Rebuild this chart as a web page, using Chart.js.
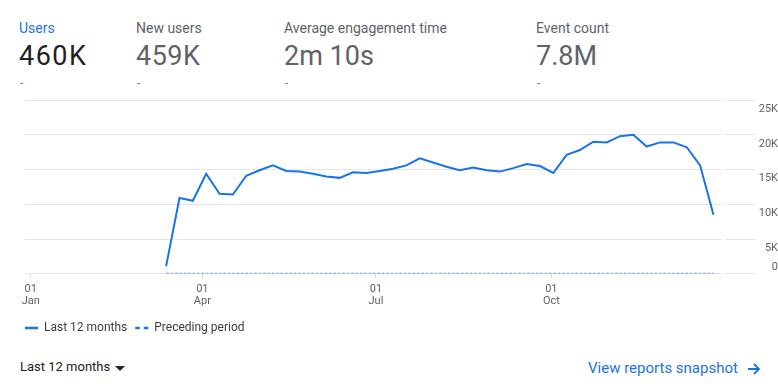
<!DOCTYPE html>
<html>
<head>
<meta charset="utf-8">
<script src="https://cdn.jsdelivr.net/npm/chart.js@4"></script>
<style>
  body { margin: 0; background: #fff; font-family: Roboto, Arial, sans-serif; width: 778px; height: 391px; overflow: hidden; position: relative; }
  .abs { position: absolute; white-space: nowrap; }
  .lbl { font-size: 14px; line-height: 14px; color: #5f6368; top: 20.5px; }
  .val { font-size: 27px; line-height: 27px; color: #5f6368; top: 43.3px; }
  .dash { font-size: 11px; line-height: 11px; color: #5f6368; top: 78px; }
  #chartBox { position: absolute; left: 0; top: 88px; width: 778px; height: 256px; }
</style>
</head>
<body>

<div class="abs lbl" style="left:19px; color:#1a73e8;">Users</div>
<div class="abs val" style="left:19px; color:#202124; letter-spacing:1.5px;">460K</div>
<div class="abs dash" style="left:20px; color:#1a73e8;">-</div>

<div class="abs lbl" style="left:136px;">New users</div>
<div class="abs val" style="left:136px; letter-spacing:0.5px;">459K</div>
<div class="abs dash" style="left:137px;">-</div>

<div class="abs lbl" style="left:284px;">Average engagement time</div>
<div class="abs val" style="left:284px;">2m 10s</div>
<div class="abs dash" style="left:285px;">-</div>

<div class="abs lbl" style="left:536px;">Event count</div>
<div class="abs val" style="left:536px;">7.8M</div>
<div class="abs dash" style="left:537px;">-</div>

<div id="chartBox"><canvas id="myChart" width="778" height="256"></canvas></div>

<div class="abs" style="left:20px; top:360.4px; font-size:13px; line-height:13px; color:#202124;">Last 12 months</div>
<div class="abs" style="left:115px; top:366px; width:0; height:0; border-left:5px solid transparent; border-right:5px solid transparent; border-top:5px solid #202124;"></div>

<div class="abs" style="left:588px; top:361.4px; font-size:15px; line-height:15px; color:#1a73e8;">View reports snapshot</div>
<svg class="abs" style="left:747px; top:363px;" width="14" height="12" viewBox="0 0 14 12">
  <path d="M1 6 H12 M7 1 L12 6 L7 11" fill="none" stroke="#1a73e8" stroke-width="1.8"/>
</svg>

<script>
'use strict';

// week start dates (categories)
var weekDates = [
    '2023-03-13', '2023-03-20', '2023-03-27',
    '2023-04-03', '2023-04-10', '2023-04-17', '2023-04-24',
    '2023-05-01', '2023-05-08', '2023-05-15', '2023-05-22', '2023-05-29',
    '2023-06-05', '2023-06-12', '2023-06-19', '2023-06-26',
    '2023-07-03', '2023-07-10', '2023-07-17', '2023-07-24', '2023-07-31',
    '2023-08-07', '2023-08-14', '2023-08-21', '2023-08-28',
    '2023-09-04', '2023-09-11', '2023-09-18', '2023-09-25',
    '2023-10-02', '2023-10-09', '2023-10-16', '2023-10-23', '2023-10-30',
    '2023-11-06', '2023-11-13', '2023-11-20', '2023-11-27',
    '2023-12-04', '2023-12-11', '2023-12-18', '2023-12-25'
];

// users, last 12 months
var usersLast12 = [
    1100, 10900, 10500,
    14400, 11500, 11400, 14100,
    14900, 15600, 14800, 14700, 14400,
    14000, 13800, 14600, 14500,
    14800, 15100, 15600, 16600, 16000,
    15400, 14900, 15300, 14900,
    14700, 15200, 15800, 15500,
    14500, 17100, 17800, 19000, 18900,
    19800, 20000, 18300, 18900,
    18900, 18200, 15600, 8500
];

// users, preceding period
var usersPreceding = [
    0, 0, 0,
    0, 0, 0, 0,
    0, 0, 0, 0, 0,
    0, 0, 0, 0,
    0, 0, 0, 0, 0,
    0, 0, 0, 0,
    0, 0, 0, 0,
    0, 0, 0, 0, 0,
    0, 0, 0, 0,
    0, 0, 0, 0
];

// x axis ticks
var tickDates = ['2023-01-01', '2023-04-01', '2023-07-01', '2023-10-01'];
var tickLabels = [['01', 'Jan'], ['01', 'Apr'], ['01', 'Jul'], ['01', 'Oct']];

// y axis ticks
var yTicks = [0, 5000, 10000, 15000, 20000, 25000];
var yTickLabels = ['0', '5K', '10K', '15K', '20K', '25K'];

var rangeStart = '2022-12-29';
var rangeEnd = '2023-12-30';

function dayNum(s) {
    return (Date.parse(s + 'T00:00:00Z') - Date.UTC(2023, 0, 1)) / 86400000;
}

function toPoints(values) {
    return values.map(function(v, i) {
        return {x: dayNum(weekDates[i]), y: v};
    });
}

initChart();

function initChart() {
    var ctx = document.getElementById('myChart').getContext('2d');

    var data = {
        datasets: [
            {
                label: 'Last 12 months',
                data: toPoints(usersLast12),
                xAxisID: 'x',
                yAxisID: 'y',
                borderColor: '#1a73e8',
                borderWidth: 2,
                pointRadius: 0,
                tension: 0,
                fill: false
            },
            {
                label: 'Preceding period',
                data: toPoints(usersPreceding),
                xAxisID: 'x',
                yAxisID: 'y',
                borderColor: '#6a9ef4',
                borderWidth: 2,
                borderDash: [2.7, 1.7],
                pointRadius: 0,
                tension: 0,
                fill: false
            }
        ]
    };

    var options = {
        responsive: false,
        animation: false,
        devicePixelRatio: 1,
        layout: {
            padding: {left: 17, right: 0, top: 12, bottom: 0}
        },
        plugins: {
            tooltip: {enabled: false},
            legend: {
                position: 'bottom',
                align: 'start',
                labels: {
                    usePointStyle: true,
                    pointStyle: 'line',
                    pointStyleWidth: 13,
                    padding: 8,
                    color: '#3c4043',
                    font: {family: 'Roboto', size: 12},
                    generateLabels: function(chart) {
                        var items = Chart.defaults.plugins.legend.labels.generateLabels(chart);
                        items.forEach(function(item, i) {
                            item.strokeStyle = '#1a73e8';
                            item.lineWidth = 2.5;
                            item.lineDash = i === 1 ? [4.5, 4] : [];
                        });
                        return items;
                    }
                }
            }
        },
        scales: {
            x: {
                type: 'linear',
                min: dayNum(rangeStart),
                max: dayNum(rangeEnd),
                grid: {
                    drawOnChartArea: false,
                    drawTicks: true,
                    tickLength: 5,
                    color: '#e0e0e0'
                },
                border: {display: false},
                afterBuildTicks: function(scale) {
                    scale.ticks = tickDates.map(function(d) { return {value: dayNum(d)}; });
                },
                afterFit: function(scale) {
                    scale.height += 3;
                },
                ticks: {
                    autoSkip: false,
                    maxRotation: 0,
                    padding: 4,
                    color: '#5f6368',
                    font: {family: 'Roboto', size: 11, lineHeight: 1.1},
                    callback: function(value, index) {
                        return tickLabels[index];
                    }
                }
            },
            y: {
                position: 'right',
                min: 0,
                max: 25000,
                afterBuildTicks: function(scale) {
                    scale.ticks = yTicks.map(function(v) { return {value: v}; });
                },
                afterFit: function(scale) {
                    scale.width = 55;
                },
                grid: {
                    color: '#e5e5e5',
                    drawTicks: true,
                    tickLength: 32
                },
                // transparent border leaves the small gap before the tick stubs
                border: {display: true, color: 'rgba(0,0,0,0)', width: 4},
                ticks: {
                    autoSkip: false,
                    crossAlign: 'far',
                    padding: 0,
                    labelOffset: 9,
                    color: '#5f6368',
                    font: {family: 'Roboto', size: 11, lineHeight: 1.45},
                    callback: function(value, index) {
                        // the zero label sits above its line
                        return index === 0 ? [yTickLabels[0], '', ''] : yTickLabels[index];
                    }
                }
            },
            pad: {
                type: 'linear',
                position: 'left',
                display: true,
                grid: {display: false, drawTicks: false},
                border: {display: false},
                ticks: {display: false},
                afterFit: function(scale) {
                    scale.width = 8;
                }
            }
        }
    };

    new Chart(ctx, {
        type: 'line',
        data: data,
        options: options
    });
}
</script>
</body>
</html>
